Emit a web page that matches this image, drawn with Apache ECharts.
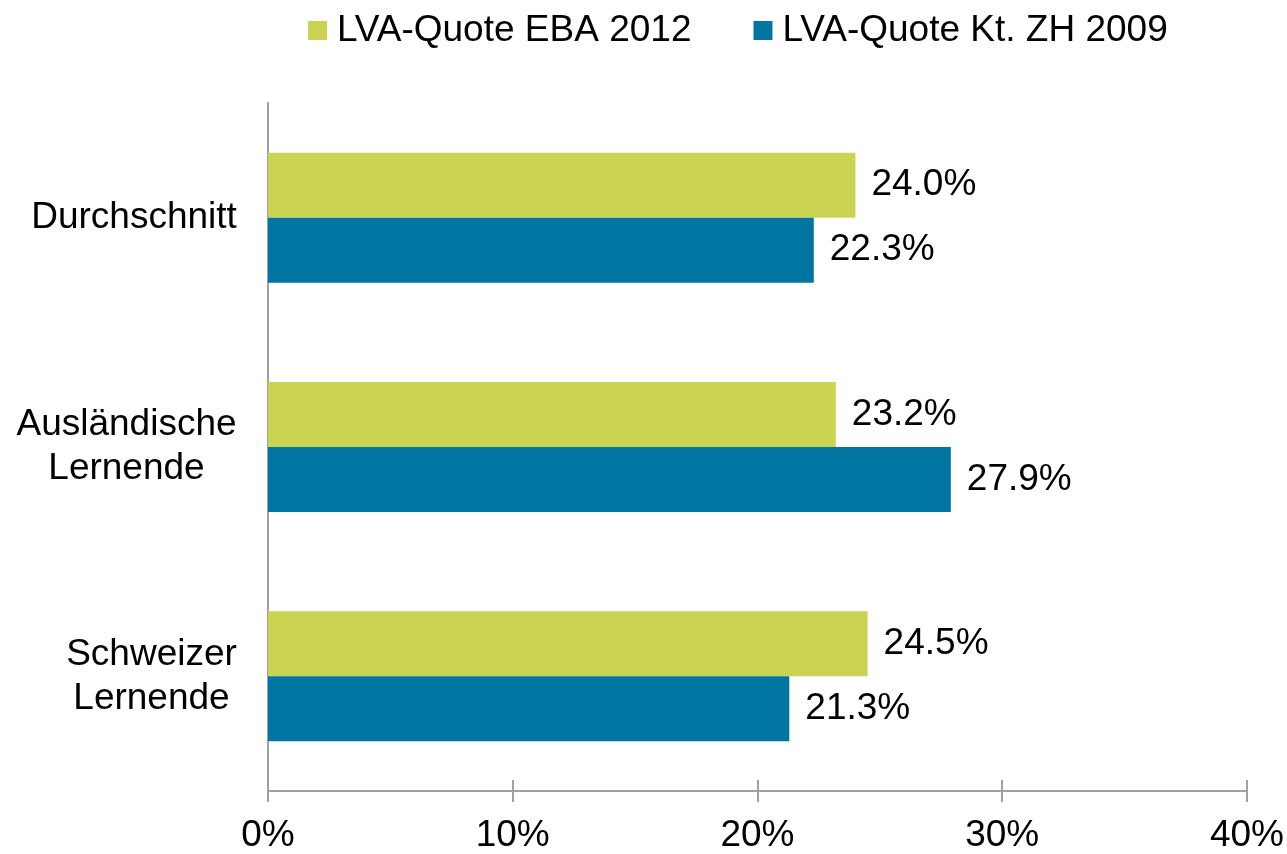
<!DOCTYPE html>
<html>
<head>
<meta charset="utf-8">
<script src="https://cdn.jsdelivr.net/npm/echarts@6/dist/echarts.min.js"></script>
<style>
  html, body { margin: 0; padding: 0; background: #fff; }
  #chart { width: 1287px; height: 854px; }
</style>
</head>
<body>
<div id="chart"></div>
<script>
// data
var categories = ['Durchschnitt', 'Ausländische\nLernende', 'Schweizer\nLernende']
var seriesNames = ['LVA-Quote EBA 2012', 'LVA-Quote Kt. ZH 2009']
var eba2012 = [24.0, 23.2, 24.5]
var zh2009 = [22.3, 27.9, 21.3]
var xTicks = [0, 10, 20, 30, 40]

var FONT = "'Liberation Sans', Arial, sans-serif"
var colors = ['#cbd452', '#0075a2']

// multi-line labels: lines centered inside a block as wide as the widest line
var ctx = document.createElement('canvas').getContext('2d')
ctx.font = '37px ' + FONT
var rich = {}
categories.forEach(function (c, i) {
  var w = Math.max.apply(null, c.split('\n').map(function (s) { return ctx.measureText(s).width }))
  rich['c' + i] = { width: Math.ceil(w), align: 'center', fontSize: 37, lineHeight: 44, fontFamily: FONT, color: '#000' }
})

var chart = echarts.init(document.getElementById('chart'))

var labelOpt = {
  show: true,
  position: 'right',
  distance: 16,
  fontSize: 37,
  fontFamily: FONT,
  color: '#000',
  formatter: function (p) { return p.value.toFixed(1) + '%' }
}

chart.setOption({
  animation: false,
  color: colors,
  legend: {
    left: 303,
    top: 7,
    itemWidth: 19,
    itemHeight: 19,
    itemGap: 62,
    icon: 'rect',
    textStyle: { fontSize: 37, fontFamily: FONT, color: '#000', padding: [0, 0, 0, 5] },
    data: seriesNames
  },
  grid: { left: 268, right: 40, top: 103, bottom: 62, containLabel: false },
  xAxis: [{
    type: 'value',
    min: xTicks[0],
    max: xTicks[xTicks.length - 1],
    interval: 10,
    axisLine: { show: true, lineStyle: { color: '#a0a0a0', width: 2 } },
    axisTick: { show: true, inside: true, length: 11, lineStyle: { color: '#a0a0a0', width: 2 } },
    splitLine: { show: false },
    axisLabel: {
      margin: 26,
      fontSize: 37,
      fontFamily: FONT,
      color: '#000',
      formatter: function (v) { return v + '%' }
    }
  }, {
    type: 'value',
    position: 'bottom',
    min: xTicks[0],
    max: xTicks[xTicks.length - 1],
    interval: 10,
    axisLine: { show: false },
    axisTick: { show: true, inside: false, length: 11, lineStyle: { color: '#a0a0a0', width: 2 } },
    splitLine: { show: false },
    axisLabel: { show: false }
  }],
  yAxis: {
    type: 'category',
    inverse: true,
    data: categories,
    axisLine: { show: true, lineStyle: { color: '#a0a0a0', width: 2 } },
    axisTick: { show: false },
    axisLabel: {
      margin: 31,
      formatter: function (v) {
        var i = categories.indexOf(v)
        return v.split('\n').map(function (s) { return '{c' + i + '|' + s + '}' }).join('\n')
      },
      rich: rich
    }
  },
  series: [{
    name: seriesNames[0],
    type: 'bar',
    data: eba2012,
    barWidth: 65,
    barGap: '0%',
    label: labelOpt
  }, {
    name: seriesNames[1],
    type: 'bar',
    data: zh2009,
    barWidth: 65,
    barGap: '0%',
    label: labelOpt
  }]
})
</script>
</body>
</html>
